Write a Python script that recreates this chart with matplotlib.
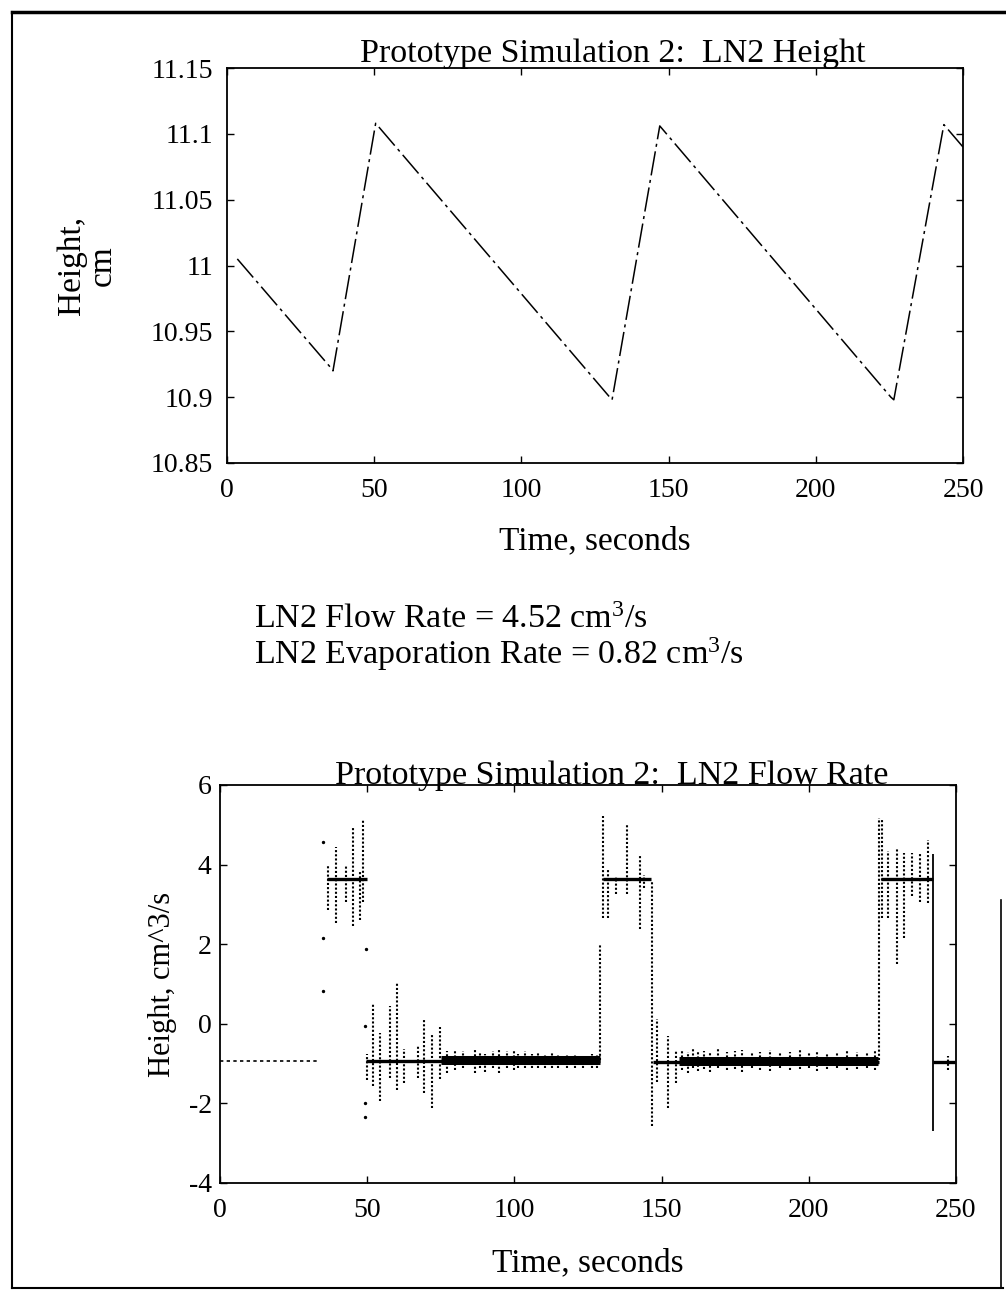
import matplotlib
matplotlib.use('Agg')
import matplotlib.pyplot as plt
from matplotlib.lines import Line2D

plt.rcParams['font.family'] = ['Liberation Serif', 'DejaVu Serif']
plt.rcParams['mathtext.fontset'] = 'custom'
plt.rcParams['mathtext.rm'] = 'Liberation Serif'
plt.rcParams['axes.unicode_minus'] = False

# --- top chart: LN2 height (corners of the saw tooth) ---
height_t = [3.5, 35.0, 36.0, 50.5, 130.0, 130.8, 147.0, 225.5, 226.5, 243.5, 250.0]
height_cm = [11.005, 10.923, 10.92, 11.108, 10.9, 10.898, 11.106, 10.9, 10.898, 11.107, 11.09]
height_ticks = [10.85, 10.9, 10.95, 11.0, 11.05, 11.1, 11.15]
height_ticklabels = ['10.85', '10.9', '10.95', '11', '11.05', '11.1', '11.15']
time_ticks = [0, 50, 100, 150, 200, 250]

# --- bottom chart: LN2 flow rate ---
# steady levels (start, end, value)
level_start = [0.0, 36.5, 49.5, 130.0, 147.0, 224.5, 242.3]
level_end = [33.5, 50.0, 129.0, 146.5, 224.0, 242.3, 249.5]
level_value = [-0.94, 3.65, -0.93, 3.64, -0.95, 3.63, -0.97]

# dense noisy parts of the low level
band_start = [75.0, 156.0]
band_end = [129.0, 223.6]
band_value = [-0.92, -0.94]

# spikes: time, top, bottom
spike_t = [36.6, 39.3, 42.8, 45.1, 47.6, 48.5,
           50.0, 52.0, 54.2, 57.6, 60.0, 62.6, 67.2, 69.2, 72.0, 74.6,
           77.0, 79.9, 82.7, 86.7, 88.4, 90.0, 92.9, 94.9, 97.4, 99.7,
           101.3, 103.6, 105.9, 108.1, 110.4, 112.7, 114.9, 117.8, 120.6,
           123.4, 126.3, 128.0,
           129.1, 130.2, 131.7, 134.5, 138.2, 142.6, 144.1, 146.6,
           148.3, 152.1, 155.0,
           156.8, 158.8, 160.6, 162.5, 164.4, 166.5, 169.3, 172.1, 174.9,
           177.2, 180.6, 183.4, 186.8, 190.2, 193.6, 197.0, 199.9, 202.7,
           206.1, 209.5, 212.9, 216.3, 219.7, 222.5,
           223.9, 224.7, 226.9, 229.8, 232.3, 234.9, 237.7, 240.6, 247.4]
spike_hi = [4.0, 4.44, 3.98, 4.97, 3.86, 5.11,
            -0.77, 0.52, -0.23, 0.44, 1.03, -0.64, -0.55, 0.11, -0.26, -0.07,
            -0.69, -0.65, -0.69, -0.6, -0.73, -0.77, -0.69, -0.62, -0.69, -0.69,
            -0.75, -0.68, -0.75, -0.7, -0.78, -0.7, -0.78, -0.78, -0.78,
            -0.8, -0.76, -0.78,
            2.0, 5.22, 3.92, 3.7, 5.01, 4.21, 3.75, 3.6,
            0.11, -0.31, -0.68,
            -0.66, -0.7, -0.62, -0.72, -0.68, -0.7, -0.64, -0.72, -0.69,
            -0.66, -0.74, -0.7, -0.67, -0.72, -0.7, -0.65, -0.71, -0.69,
            -0.73, -0.7, -0.68, -0.72, -0.7, -0.66,
            5.18, 5.18, 4.34, 4.42, 4.3, 4.3, 4.26, 4.63, -0.8]
spike_lo = [2.87, 2.54, 3.07, 2.46, 2.6, 3.07,
            -1.4, -1.57, -1.95, -1.36, -1.66, -1.48, -1.36, -1.75, -2.12, -1.39,
            -1.24, -1.15, -1.1, -1.24, -1.1, -1.2, -1.12, -1.24, -1.12, -1.15,
            -1.1, -1.12, -1.1, -1.12, -1.1, -1.12, -1.1, -1.1, -1.1,
            -1.1, -1.12, -1.1,
            -0.9, 2.66, 2.66, 3.25, 3.25, 2.37, 3.4, -2.58,
            -1.45, -2.12, -1.49,
            -1.15, -1.24, -1.12, -1.18, -1.14, -1.2, -1.12, -1.16, -1.14,
            -1.2, -1.12, -1.15, -1.18, -1.12, -1.16, -1.14, -1.12, -1.18,
            -1.14, -1.12, -1.16, -1.14, -1.12, -1.15,
            -0.9, 2.66, 2.66, 1.49, 2.16, 3.2, 3.05, 3.04, -1.15]

# one solid drop at the end of the last fill
drop_t = [242.3]
drop_hi = [4.26]
drop_lo = [-2.7]

# loose dots at the switching points
dot_t = [34.9, 34.9, 34.9, 49.6, 49.3, 49.3, 49.3]
dot_v = [0.83, 2.16, 4.57, 1.87, -0.06, -1.99, -2.35]

flow_ticks = [-4, -2, 0, 2, 4, 6]

W, H = 1006, 1291
fig = plt.figure(figsize=(W / 100, H / 100), dpi=100)


def fig_box(left, top, right, bottom):
    return [left / W, 1 - bottom / H, (right - left) / W, (bottom - top) / H]


def matlab_axes(ax):
    for s in ax.spines.values():
        s.set_linewidth(1.3)
    ax.tick_params(direction='in', length=5, width=1, top=True, right=True,
                   labelsize=20)
    ax.tick_params(axis='x', pad=11)


# ----- top chart -----
ax1 = fig.add_axes(fig_box(227, 68, 963, 463))
ax1.plot(height_t, height_cm, color='black', lw=1.1,
         linestyle=(0, (16, 3, 2, 3)))
ax1.set_xlim(0, 250)
ax1.set_ylim(10.85, 11.15)
ax1.set_xticks(time_ticks)
ax1.set_yticks(height_ticks)
ax1.set_yticklabels(height_ticklabels)
matlab_axes(ax1)
ax1.tick_params(axis='y', pad=10)
ax1.text(0.524, 1.015, 'Prototype Simulation 2:  LN2 Height',
         transform=ax1.transAxes, ha='center', va='baseline', fontsize=24.5)
ax1.set_xlabel('Time, seconds', fontsize=24, labelpad=16)
ax1.text(-0.19, 0.5, 'Height,\ncm', transform=ax1.transAxes, rotation=90,
         ha='center', va='center', fontsize=24, linespacing=1.0)

# ----- text between the charts -----
fig.text(254 / W, 1 - 628 / H, r'LN2 Flow Rate = 4.52 cm$\mathregular{^3}$/s',
         fontsize=24.5, va='baseline')
fig.text(254 / W, 1 - 664 / H,
         r'LN2 Evaporation Rate = 0.82 cm$\mathregular{^3}$/s',
         fontsize=24.5, va='baseline')

# ----- bottom chart -----
ax2 = fig.add_axes(fig_box(220, 785, 956, 1183))
ax2.hlines(level_value[0], level_start[0], level_end[0], color='black',
           lw=1.2, linestyle=(0, (2, 2)))
ax2.hlines(level_value[1:], level_start[1:], level_end[1:], color='black',
           lw=2.4)
ax2.hlines(band_value, band_start, band_end, color='black', lw=6.5)
ax2.vlines(spike_t, spike_lo, spike_hi, color='black', lw=1.5,
           linestyle=(0, (1, 1)))
ax2.vlines(drop_t, drop_lo, drop_hi, color='black', lw=1.3)
ax2.scatter(dot_t, dot_v, s=2, color='black')
ax2.set_xlim(0, 250)
ax2.set_ylim(-4, 6)
ax2.set_xticks(time_ticks)
ax2.set_yticks(flow_ticks)
matlab_axes(ax2)
ax2.tick_params(axis='y', pad=6)
ax2.text(0.532, 1.003, 'Prototype Simulation 2:  LN2 Flow Rate',
         transform=ax2.transAxes, ha='center', va='baseline', fontsize=24.5)
ax2.set_xlabel('Time, seconds', fontsize=24, labelpad=18)
ax2.text(-0.078, 0.5, 'Height, cm^3/s', transform=ax2.transAxes,
         rotation=90, ha='center', va='center', fontsize=22)

# page frame of the scan
fig.add_artist(Line2D([12 / W, 1.0], [1 - 12 / H, 1 - 12 / H],
                      transform=fig.transFigure, color='black', lw=2.5))
fig.add_artist(Line2D([12 / W, 12 / W], [1 - 12 / H, 3 / H],
                      transform=fig.transFigure, color='black', lw=1.5))
fig.add_artist(Line2D([12 / W, 1003 / W], [3 / H, 3 / H],
                      transform=fig.transFigure, color='black', lw=1.5))
fig.add_artist(Line2D([1001 / W, 1001 / W], [1 - 900 / H, 3 / H],
                      transform=fig.transFigure, color='black', lw=1.2))

fig.savefig('out.png', dpi=100)
